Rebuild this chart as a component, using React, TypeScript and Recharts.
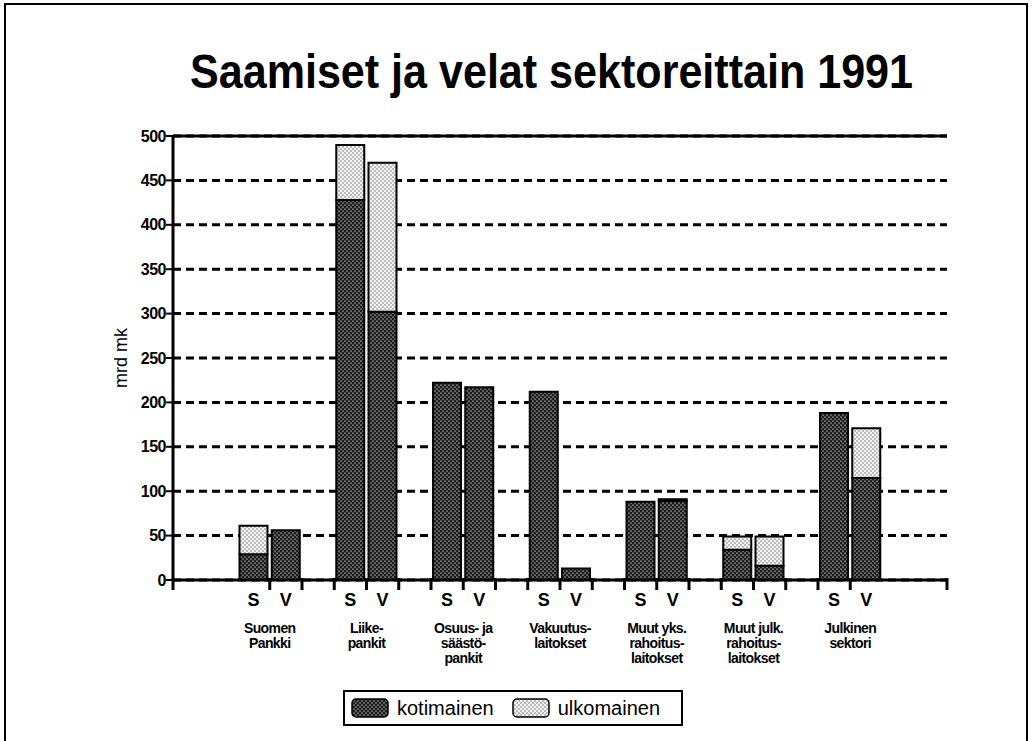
import { Bar, BarChart, CartesianGrid, Label, ReferenceLine, XAxis, YAxis } from "recharts";

const sectors = [
  "Suomen\nPankki",
  "Liike-\npankit",
  "Osuus- ja\nsäästö-\npankit",
  "Vakuutus-\nlaitokset",
  "Muut yks.\nrahoitus-\nlaitokset",
  "Muut julk.\nrahoitus-\nlaitokset",
  "Julkinen\nsektori",
];
const saamisetKot = [29, 428, 222, 212, 88, 34, 188];
const saamisetUlk = [32, 62, 0, 0, 0, 15, 0];
const velatKot = [56, 302, 217, 13, 89, 16, 115];
const velatUlk = [0, 168, 0, 0, 2, 33, 56];
const sideLabels = ["S", "V"];
const yTicks = [0, 50, 100, 150, 200, 250, 300, 350, 400, 450, 500];
const legendLabels = ["kotimainen", "ulkomainen"];

const FONT = "'Liberation Sans', Arial, Helvetica, sans-serif";

type Row = { key: string; side?: string; sector?: string; kot?: number | null; ulk?: number | null };

const nz = (v: number) => (v > 0 ? v : null);

// two empty slots, then S / V / gap per sector, then one more empty slot
const rows: Row[] = [{ key: "pad0" }, { key: "pad1" }];
sectors.forEach((name, g) => {
  rows.push({ key: `${g}-S`, side: sideLabels[0], sector: name, kot: nz(saamisetKot[g]), ulk: nz(saamisetUlk[g]) });
  rows.push({ key: `${g}-V`, side: sideLabels[1], kot: nz(velatKot[g]), ulk: nz(velatUlk[g]) });
  rows.push({ key: `${g}-gap` });
});
rows.push({ key: "pad2" });

function SlotTick(props: any) {
  const { x, y, payload, index } = props;
  const i = index ?? payload.index;
  const half = payload.offset ?? 16;
  const row = rows[i];
  const lines = row?.sector ? row.sector.split("\n") : [];
  const tickAt: number[] = [];
  if (i === 0) tickAt.push(x - half);
  if (i >= 3 && i <= 21) tickAt.push(x - half);
  if (i === rows.length - 1) tickAt.push(x + half);
  return (
    <g>
      {tickAt.map((tx) => (
        <line key={tx} x1={tx} x2={tx} y1={y - 2} y2={y + 10} stroke="#000" strokeWidth={3} />
      ))}
      {row?.side && (
        <text x={x} y={y + 26} textAnchor="middle" fontFamily={FONT} fontWeight="bold" fontSize={18} fill="#000">
          {row.side}
        </text>
      )}
      {lines.map((ln, k) => (
        <text key={k} x={x + half} y={y + 53 + k * 15} textAnchor="middle" fontFamily={FONT} fontWeight="bold" fontSize={14} letterSpacing={-0.6} fill="#000">
          {ln}
        </text>
      ))}
    </g>
  );
}

function Swatch({ fill }: { fill: string }) {
  return (
    <svg width={38} height={20} style={{ display: "block" }}>
      <rect x={1} y={1} width={36} height={18} rx={4} fill={fill} stroke="#000" strokeWidth={1.5} />
    </svg>
  );
}

export default function App() {
  return (
    <div style={{ position: "absolute", left: 0, top: 0, width: 1032, height: 741, overflow: "hidden", background: "#fff" }}>
      <div style={{ position: "absolute", left: 4, top: 3, width: 1024, height: 800, border: "2px solid #000", boxSizing: "border-box" }} />
      <svg width={1032} height={120} style={{ position: "absolute", left: 0, top: 0 }}>
        <text x={190} y={88} fontFamily={FONT} fontWeight="bold" fontSize={48} textLength={723} lengthAdjust="spacingAndGlyphs" fill="#000">
          Saamiset ja velat sektoreittain 1991
        </text>
      </svg>
      <div style={{ position: "absolute", left: 0, top: 0 }}>
        <BarChart width={1032} height={741} data={rows} margin={{ top: 136, right: 85, left: 113, bottom: 51 }} barSize={28}>
          <defs>
            <pattern id="darkDots" width={4} height={4} patternUnits="userSpaceOnUse">
              <rect width={4} height={4} fill="#1c1c1c" />
              <circle cx={1} cy={1} r={0.85} fill="#a0a0a0" />
              <circle cx={3} cy={3} r={0.85} fill="#a0a0a0" />
            </pattern>
            <pattern id="lightDots" width={4} height={4} patternUnits="userSpaceOnUse">
              <rect width={4} height={4} fill="#f2f2f2" />
              <circle cx={1} cy={1} r={0.75} fill="#6a6a6a" />
              <circle cx={3} cy={3} r={0.75} fill="#6a6a6a" />
            </pattern>
          </defs>
          <CartesianGrid vertical={false} stroke="#000" strokeWidth={3} strokeDasharray="8 5" />
          <XAxis
            dataKey="key"
            interval={0}
            height={110}
            tickLine={false}
            tickSize={0}
            tickMargin={0}
            axisLine={{ stroke: "#000", strokeWidth: 3 }}
            tick={<SlotTick />}
          />
          <YAxis
            width={60}
            domain={[0, 500]}
            ticks={yTicks}
            interval={0}
            tickSize={7}
            tickMargin={0}
            axisLine={{ stroke: "#000", strokeWidth: 3 }}
            tickLine={{ stroke: "#000", strokeWidth: 2 }}
            tick={{ fontFamily: FONT, fontWeight: "bold", fontSize: 16, letterSpacing: -0.5, fill: "#000" }}
          >
            <Label
              content={({ viewBox }: any) => {
                const cx = viewBox.x + 14;
                const cy = viewBox.y + viewBox.height / 2;
                return (
                  <text x={cx} y={cy} textAnchor="middle" transform={`rotate(-90, ${cx}, ${cy})`} fontFamily={FONT} fontSize={18} fill="#000">
                    mrd mk
                  </text>
                );
              }}
            />
          </YAxis>
          <YAxis yAxisId="frame" orientation="right" width={0} tick={false} tickLine={false} axisLine={{ stroke: "#000", strokeWidth: 3 }} />
          <ReferenceLine y={500} stroke="#000" strokeWidth={3} />
          <Bar dataKey="kot" stackId="a" fill="url(#darkDots)" stroke="#000" strokeWidth={2} isAnimationActive={false} />
          <Bar dataKey="ulk" stackId="a" fill="url(#lightDots)" stroke="#000" strokeWidth={2} isAnimationActive={false} />
        </BarChart>
      </div>
      <div
        style={{
          position: "absolute",
          left: 343,
          top: 690,
          width: 340,
          height: 36,
          border: "2px solid #000",
          boxSizing: "border-box",
          display: "flex",
          alignItems: "center",
          gap: 8,
          paddingLeft: 6,
          fontFamily: FONT,
          fontSize: 20,
          color: "#000",
        }}
      >
        <Swatch fill="url(#darkDots)" />
        <span style={{ marginRight: 10 }}>{legendLabels[0]}</span>
        <Swatch fill="url(#lightDots)" />
        <span>{legendLabels[1]}</span>
      </div>
    </div>
  );
}
